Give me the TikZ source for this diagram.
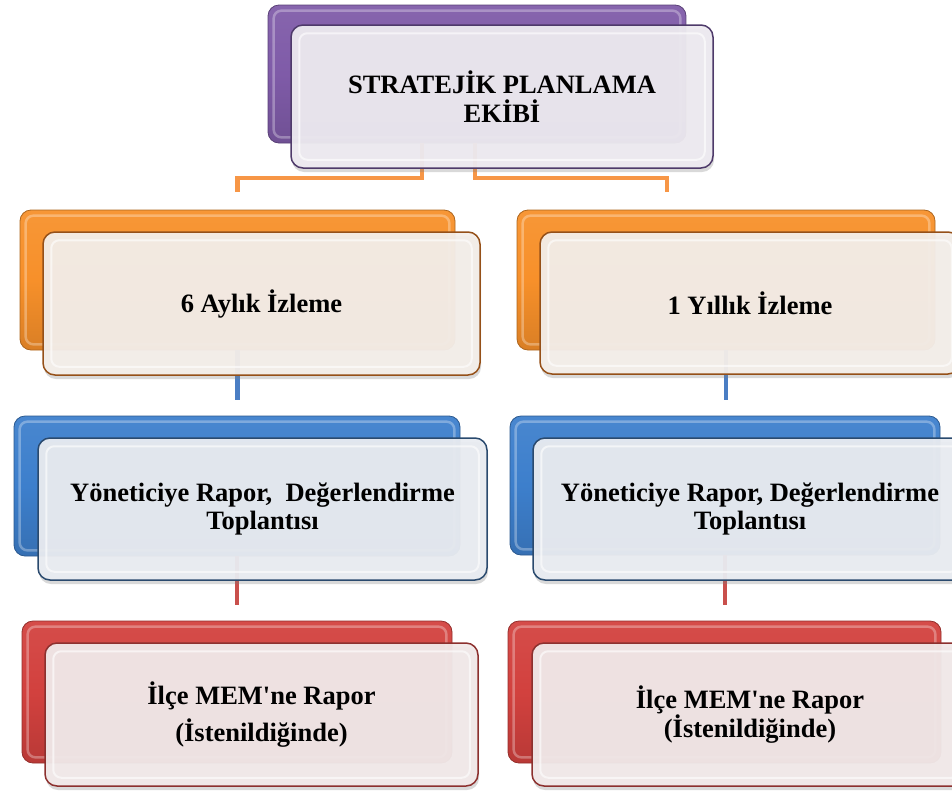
\documentclass[tikz,border=0pt]{standalone}
\usepackage{fontspec}
\setmainfont{Liberation Serif}
\usetikzlibrary{shadows}
\definecolor{pback}{HTML}{7F5BA8}
\definecolor{pdark}{HTML}{4E3A6A}
\definecolor{pfill}{HTML}{EDEAF0}
\definecolor{oback}{HTML}{F7902A}
\definecolor{odark}{HTML}{955018}
\definecolor{ofill}{HTML}{F4EEE9}
\definecolor{oline}{HTML}{F79646}
\definecolor{bback}{HTML}{3D7FCC}
\definecolor{bdark}{HTML}{2A4A6E}
\definecolor{bfill}{HTML}{E9ECF1}
\definecolor{bline}{HTML}{4A7EC4}
\definecolor{rback}{HTML}{D2413E}
\definecolor{rdark}{HTML}{8C302E}
\definecolor{rfill}{HTML}{F1E9E9}
\definecolor{rline}{HTML}{C9504C}
\begin{document}
\begin{tikzpicture}[x=1pt,y=-1pt,
  backbox/.style={rectangle, rounded corners=11pt, inner sep=0pt, draw=#1!70!black, line width=0.8pt,
    top color=#1!94!white, bottom color=#1!88!black, middle color=#1},
  frontbox/.style 2 args={rectangle, rounded corners=12pt, inner sep=0pt, draw=#1, line width=1.5pt,
    fill=#2, fill opacity=0.95, text opacity=1,
    drop shadow={opacity=0.3, shadow xshift=1pt, shadow yshift=-4pt},
    align=center, font=\fontsize{26.5}{28.5}\selectfont\bfseries},
  conn/.style={line width=4.5pt, draw=#1}
]
\useasboundingbox (0,0) rectangle (952,790);
\clip (0,0) rectangle (952,790);

% back boxes
\node[backbox=pback, minimum width=418pt, minimum height=138pt] (topb) at (477,74) {};
\node[backbox=oback, minimum width=435pt, minimum height=140pt] (o1b) at (237.5,280) {};
\node[backbox=oback, minimum width=418pt, minimum height=140pt] (o2b) at (726,280) {};
\node[backbox=bback, minimum width=446pt, minimum height=140pt] (b1b) at (237,486) {};
\node[backbox=bback, minimum width=430pt, minimum height=139pt] (b2b) at (725,485.5) {};
\node[backbox=rback, minimum width=430pt, minimum height=142pt] (r1b) at (237,692) {};
\node[backbox=rback, minimum width=433pt, minimum height=142pt] (r2b) at (724.5,692) {};

\foreach \n in {topb,o1b,o2b,b1b,b2b,r1b,r2b}{
  \draw[white, opacity=0.3, line width=2.5pt, rounded corners=8pt]
    ([shift={(6pt,-6pt)}]\n.north west) rectangle ([shift={(-6pt,6pt)}]\n.south east);
}

% connector end points
\coordinate (hl) at (0,178);
\coordinate (o1in) at (237.5,192);
\coordinate (o2in) at (667,192);
\coordinate (b1in) at (237.5,400);
\coordinate (b2in) at (726,400);
\coordinate (r1in) at (237,605);
\coordinate (r2in) at (725,605);

% connectors
\draw[conn=oline] ([xshift=-55pt]topb.south) |- (hl -| o1in) -- (o1in);
\draw[conn=oline] ([xshift=-2pt]topb.south) |- (hl -| o2in) -- (o2in);
\draw[conn=bline] (o1b.south) -- (b1in);
\draw[conn=bline] (o2b.south) -- (b2in);
\draw[conn=rline] (b1b.south) -- (r1in);
\draw[conn=rline] (b2b.south) -- (r2in);

% front boxes
\node[frontbox={pdark}{pfill}, minimum width=422pt, minimum height=143pt] (topf) at (502,96.5)
  {STRATEJİK PLANLAMA\\EKİBİ};
\node[frontbox={odark}{ofill}, minimum width=437pt, minimum height=143pt] (o1f) at (261.5,303.5)
  {6 Aylık İzleme};
\node[frontbox={odark}{ofill}, minimum width=420pt, minimum height=142pt] (o2f) at (750,303)
  {1 Yıllık İzleme};
\node[frontbox={bdark}{bfill}, minimum width=449pt, minimum height=142pt] (b1f) at (262.5,509)
  {Yöneticiye Rapor,\ \ Değerlendirme\\Toplantısı};
\node[frontbox={bdark}{bfill}, minimum width=434pt, minimum height=142pt] (b2f) at (750,509)
  {Yöneticiye Rapor, Değerlendirme\\Toplantısı};
\node[frontbox={rdark}{rfill}, minimum width=433pt, minimum height=143pt] (r1f) at (261.5,714.5)
  {İlçe MEM\textquotesingle ne Rapor\\[9pt](İstenildiğinde)};
\node[frontbox={rdark}{rfill}, minimum width=436pt, minimum height=143pt] (r2f) at (750,714.5)
  {İlçe MEM\textquotesingle ne Rapor\\(İstenildiğinde)};

\foreach \n in {topf,o1f,o2f,b1f,b2f,r1f,r2f}{
  \draw[white, opacity=0.6, line width=2pt, rounded corners=8pt]
    ([shift={(9pt,-9pt)}]\n.north west) rectangle ([shift={(-9pt,9pt)}]\n.south east);
}
\end{tikzpicture}
\end{document}
